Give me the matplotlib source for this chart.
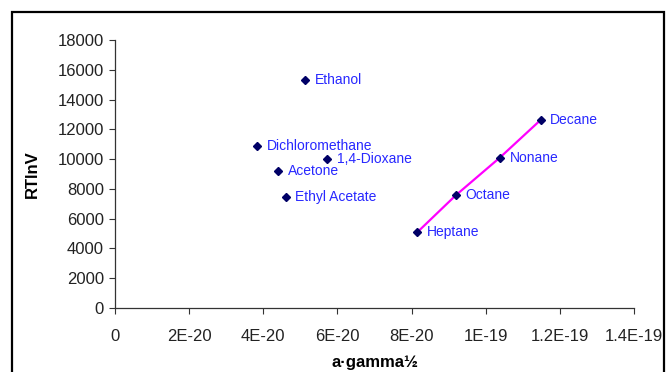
import matplotlib
matplotlib.use("Agg")
import matplotlib.pyplot as plt
from matplotlib.patches import Rectangle

plt.rcParams['font.family'] = ['Liberation Sans', 'DejaVu Sans']

# solvents: a*gamma^0.5 vs RTlnV
names = ['Ethanol', 'Dichloromethane', '1,4-Dioxane', 'Acetone', 'Ethyl Acetate',
         'Heptane', 'Octane', 'Nonane', 'Decane']
agamma = [5.12e-20, 3.83e-20, 5.72e-20, 4.39e-20, 4.60e-20,
          8.15e-20, 9.20e-20, 1.038e-19, 1.148e-19]
rtlnv = [15300, 10880, 10000, 9220, 7480,
         5080, 7590, 10100, 12630]

# alkanes joined by a line
alk_x = agamma[5:]
alk_y = rtlnv[5:]

xticks = [0, 2e-20, 4e-20, 6e-20, 8e-20, 1e-19, 1.2e-19, 1.4e-19]
xticklabels = ['0', '2E-20', '4E-20', '6E-20', '8E-20', '1E-19', '1.2E-19', '1.4E-19']
yticks = [0, 2000, 4000, 6000, 8000, 10000, 12000, 14000, 16000, 18000]

fig = plt.figure(figsize=(6.66, 3.72), dpi=100)
ax = fig.add_axes([0.1727, 0.172, 0.7793, 0.7204])

ax.plot(alk_x, alk_y, color='#FF00FF', lw=1.6, zorder=2)
ax.plot(agamma, rtlnv, ls='none', marker='D', ms=4.2, color='#000066', zorder=3)

for n, x, y in zip(names, agamma, rtlnv):
    ax.annotate(n, (x, y), xytext=(7, 0), textcoords='offset points',
                va='center', ha='left', fontsize=10, color='#2828FF')

ax.set_xlim(0, 1.4e-19)
ax.set_ylim(0, 18000)
ax.set_xticks(xticks)
ax.set_xticklabels(xticklabels)
ax.set_yticks(yticks)
ax.tick_params(direction='out', length=4, width=0.8, labelsize=12,
               labelcolor='#222222', color='#333333')
ax.tick_params(axis='x', pad=11)
ax.tick_params(axis='y', pad=4)
for s in ['top', 'right']:
    ax.spines[s].set_visible(False)
for s in ['left', 'bottom']:
    ax.spines[s].set_color('#333333')
    ax.spines[s].set_linewidth(0.9)

ax.set_xlabel('a\u00b7gamma\u00bd', fontsize=12, fontweight='bold')
ax.xaxis.set_label_coords(0.5, -0.175)
ax.set_ylabel('RTlnV', fontsize=12, fontweight='bold')
ax.yaxis.set_label_coords(-0.1445, 0.5)

# outer chart border
fig.patches.append(Rectangle((12 / 666, -0.2), 652 / 666, 1.2 - 12 / 372,
                             transform=fig.transFigure, fill=False,
                             edgecolor='black', lw=1.6))

fig.savefig('out.png', dpi=100)
